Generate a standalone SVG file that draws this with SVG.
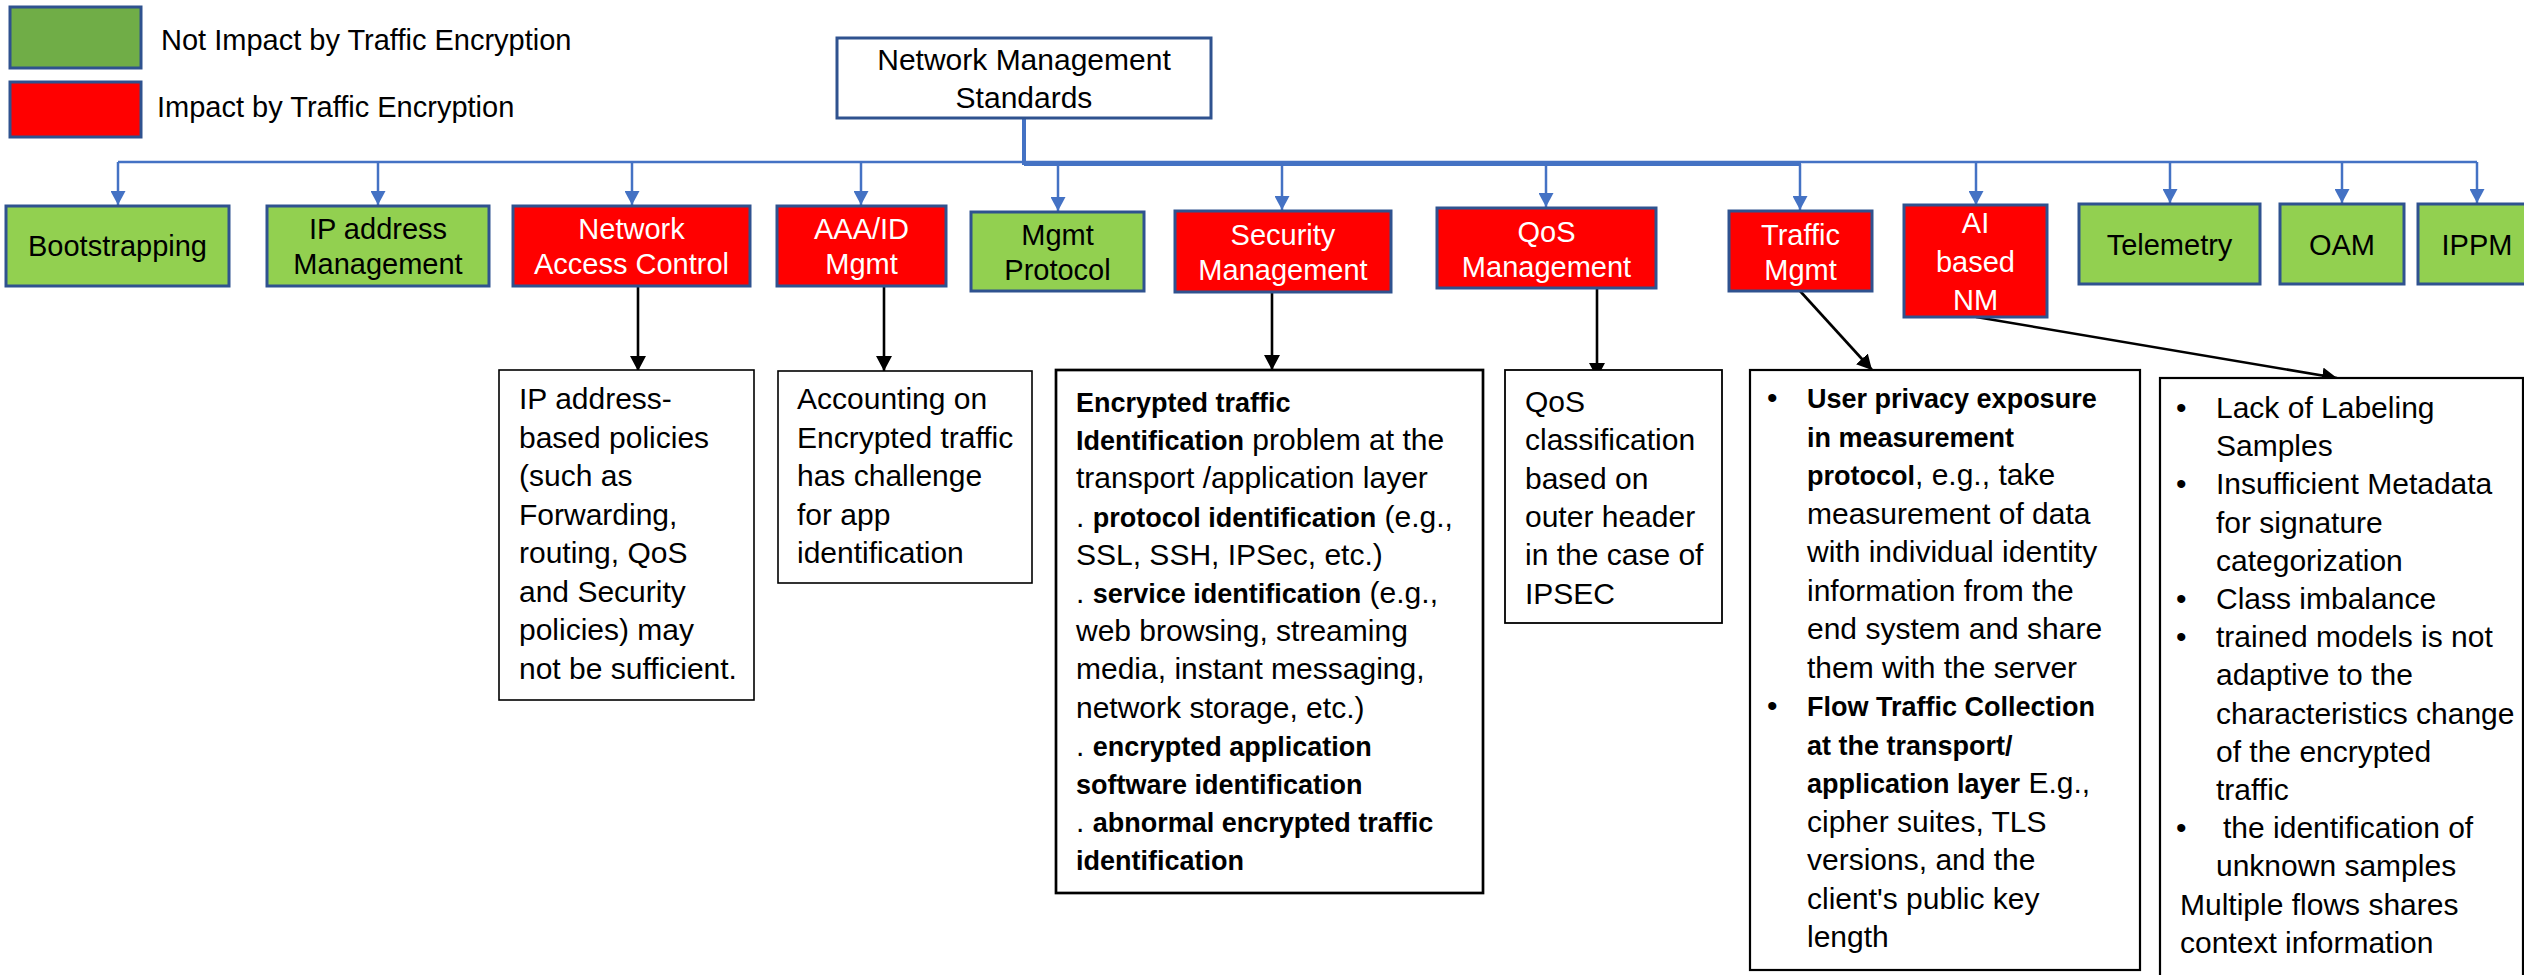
<svg xmlns="http://www.w3.org/2000/svg" width="2524" height="975" viewBox="0 0 2524 975">
  <style>
    text { font-family: "Liberation Sans", Arial, sans-serif; }
    .lbl { font-size: 29px; text-anchor: middle; }
    .lbl-w { fill: #ffffff; }
    .lbl-k { fill: #000000; }
    .body { font-size: 30px; fill: #000000; }
    .b { font-weight: bold; font-size: 27px; }
    .ok { fill: #92D050; stroke: #2F528F; stroke-width: 3; }
    .hit { fill: #FF0000; stroke: #2F528F; stroke-width: 3; }
    .note { fill: #ffffff; stroke: #000000; }
    .bus { fill: none; stroke: #4472C4; stroke-width: 2.5; }
    .drop { fill: none; stroke: #4472C4; stroke-width: 2.5; marker-end: url(#arrowBlue); }
    .link { fill: none; stroke: #000000; stroke-width: 2.6; marker-end: url(#arrowBlack); }
  </style>
  <defs>
    <marker id="arrowBlue" viewBox="0 0 14 15" refX="14" refY="7.5" markerWidth="14" markerHeight="15" markerUnits="userSpaceOnUse" orient="auto">
      <path d="M0,0 L14,7.5 L0,15 z" fill="#4472C4"/>
    </marker>
    <marker id="arrowBlack" viewBox="0 0 15 16" refX="15" refY="8" markerWidth="15" markerHeight="16" markerUnits="userSpaceOnUse" orient="auto">
      <path d="M0,0 L15,8 L0,16 z" fill="#000000"/>
    </marker>
  </defs>

  <rect width="2524" height="975" fill="#ffffff"/>

  <!-- legend -->
  <g id="legend">
    <rect x="10" y="7" width="131" height="61" fill="#70AD47" stroke="#2F528F" stroke-width="3"/>
    <text x="161" y="50" style="font-size:29px" fill="#000">Not Impact by Traffic Encryption</text>
    <rect x="10" y="82" width="131" height="55" fill="#FF0000" stroke="#2F528F" stroke-width="3"/>
    <text x="157" y="117" style="font-size:29px" fill="#000">Impact by Traffic Encryption</text>
  </g>

  <!-- connectors -->
  <g id="connectors">
    <!-- root trunk and distribution bus -->
    <line x1="1024" y1="118" x2="1024" y2="165" stroke="#4472C4" stroke-width="4"/>
    <line class="bus" x1="118" y1="162" x2="2477" y2="162"/>
    <line class="bus" x1="1024" y1="163.5" x2="1546" y2="163.5" style="stroke-width:4"/>
    <line class="bus" x1="1024" y1="164.5" x2="1801" y2="164.5" style="stroke-width:3"/>
    <!-- drops to category boxes -->
    <line class="drop" x1="118" y1="162" x2="118" y2="205"/>
    <line class="drop" x1="378" y1="162" x2="378" y2="205"/>
    <line class="drop" x1="632" y1="162" x2="632" y2="205"/>
    <line class="drop" x1="861" y1="162" x2="861" y2="205"/>
    <line class="drop" x1="1058" y1="164" x2="1058" y2="211"/>
    <line class="drop" x1="1282" y1="164" x2="1282" y2="210"/>
    <line class="drop" x1="1546" y1="164" x2="1546" y2="207"/>
    <line class="drop" x1="1800" y1="164" x2="1800" y2="210"/>
    <line class="drop" x1="1976" y1="162" x2="1976" y2="205"/>
    <line class="drop" x1="2170" y1="162" x2="2170" y2="203"/>
    <line class="drop" x1="2342" y1="162" x2="2342" y2="203"/>
    <line class="drop" x1="2477" y1="162" x2="2477" y2="203"/>
    <!-- category boxes to issue notes -->
    <line class="link" x1="638" y1="286" x2="638" y2="371"/>
    <line class="link" x1="884" y1="286" x2="884" y2="371"/>
    <line class="link" x1="1272" y1="292" x2="1272" y2="370"/>
    <line class="link" x1="1597" y1="288" x2="1597" y2="378"/>
    <line class="link" x1="1800" y1="291" x2="1872" y2="370"/>
    <line class="link" x1="1976" y1="317" x2="2337" y2="378"/>
  </g>

  <!-- root -->
  <g id="root">
    <rect x="837" y="38" width="374" height="80" fill="#ffffff" stroke="#2F528F" stroke-width="3"/>
    <text x="1024" y="70" text-anchor="middle" style="font-size:30px" fill="#000">Network Management</text>
    <text x="1024" y="108" text-anchor="middle" style="font-size:30px" fill="#000">Standards</text>
  </g>

  <!-- categories -->
  <g id="bootstrapping">
    <rect class="ok" x="6" y="206" width="223" height="80"/>
    <text class="lbl lbl-k" x="117.5" y="256">Bootstrapping</text>
  </g>
  <g id="ip-address-management">
    <rect class="ok" x="267" y="206" width="222" height="80"/>
    <text class="lbl lbl-k" x="378" y="239">IP address</text>
    <text class="lbl lbl-k" x="378" y="274">Management</text>
  </g>
  <g id="network-access-control">
    <rect class="hit" x="513" y="206" width="237" height="80"/>
    <text class="lbl lbl-w" x="631.5" y="239">Network</text>
    <text class="lbl lbl-w" x="631.5" y="274">Access Control</text>
  </g>
  <g id="aaa-id-mgmt">
    <rect class="hit" x="777" y="206" width="169" height="80"/>
    <text class="lbl lbl-w" x="861.5" y="239">AAA/ID</text>
    <text class="lbl lbl-w" x="861.5" y="274">Mgmt</text>
  </g>
  <g id="mgmt-protocol">
    <rect class="ok" x="971" y="212" width="173" height="79"/>
    <text class="lbl lbl-k" x="1057.5" y="245">Mgmt</text>
    <text class="lbl lbl-k" x="1057.5" y="280">Protocol</text>
  </g>
  <g id="security-management">
    <rect class="hit" x="1175" y="211" width="216" height="81"/>
    <text class="lbl lbl-w" x="1283" y="245">Security</text>
    <text class="lbl lbl-w" x="1283" y="280">Management</text>
  </g>
  <g id="qos-management">
    <rect class="hit" x="1437" y="208" width="219" height="80"/>
    <text class="lbl lbl-w" x="1546.5" y="242">QoS</text>
    <text class="lbl lbl-w" x="1546.5" y="277">Management</text>
  </g>
  <g id="traffic-mgmt">
    <rect class="hit" x="1729" y="211" width="143" height="80"/>
    <text class="lbl lbl-w" x="1800.5" y="245">Traffic</text>
    <text class="lbl lbl-w" x="1800.5" y="280">Mgmt</text>
  </g>
  <g id="ai-based-nm">
    <rect class="hit" x="1904" y="205" width="143" height="112"/>
    <text class="lbl lbl-w" x="1975.5" y="233">AI</text>
    <text class="lbl lbl-w" x="1975.5" y="272">based</text>
    <text class="lbl lbl-w" x="1975.5" y="310">NM</text>
  </g>
  <g id="telemetry">
    <rect class="ok" x="2079" y="204" width="181" height="80"/>
    <text class="lbl lbl-k" x="2169.5" y="255">Telemetry</text>
  </g>
  <g id="oam">
    <rect class="ok" x="2280" y="204" width="124" height="80"/>
    <text class="lbl lbl-k" x="2342" y="255">OAM</text>
  </g>
  <g id="ippm">
    <rect class="ok" x="2418" y="204" width="118" height="80"/>
    <text class="lbl lbl-k" x="2477" y="255">IPPM</text>
  </g>

  <!-- issue notes -->
  <g id="note-access-control">
    <rect class="note" x="499" y="370" width="255" height="330" stroke-width="1.6"/>
    <text class="body" x="519" y="409">IP address-</text>
    <text class="body" x="519" y="447.5">based policies</text>
    <text class="body" x="519" y="486">(such as</text>
    <text class="body" x="519" y="524.5">Forwarding,</text>
    <text class="body" x="519" y="563">routing, QoS</text>
    <text class="body" x="519" y="601.5">and Security</text>
    <text class="body" x="519" y="640">policies) may</text>
    <text class="body" x="519" y="678.5">not be sufficient.</text>
  </g>

  <g id="note-aaa">
    <rect class="note" x="778" y="371" width="254" height="212" stroke-width="1.6"/>
    <text class="body" x="797" y="409">Accounting on</text>
    <text class="body" x="797" y="447.5">Encrypted traffic</text>
    <text class="body" x="797" y="486">has challenge</text>
    <text class="body" x="797" y="524.5">for app</text>
    <text class="body" x="797" y="563">identification</text>
  </g>

  <g id="note-security">
    <rect class="note" x="1056" y="370" width="427" height="523" stroke-width="2.7"/>
    <text class="body b" x="1076" y="412">Encrypted traffic</text>
    <text class="body" x="1076" y="450.2"><tspan class="b">Identification</tspan> problem at the</text>
    <text class="body" x="1076" y="488.4">transport /application layer</text>
    <text class="body" x="1076" y="526.6">. <tspan class="b">protocol identification</tspan> (e.g.,</text>
    <text class="body" x="1076" y="564.8">SSL, SSH, IPSec, etc.)</text>
    <text class="body" x="1076" y="603">. <tspan class="b">service identification</tspan> (e.g.,</text>
    <text class="body" x="1076" y="641.2">web browsing, streaming</text>
    <text class="body" x="1076" y="679.4">media, instant messaging,</text>
    <text class="body" x="1076" y="717.6">network storage, etc.)</text>
    <text class="body" x="1076" y="755.8">. <tspan class="b">encrypted application</tspan></text>
    <text class="body b" x="1076" y="794">software identification</text>
    <text class="body" x="1076" y="832.2">. <tspan class="b">abnormal encrypted traffic</tspan></text>
    <text class="body b" x="1076" y="870.4">identification</text>
  </g>

  <g id="note-qos">
    <rect class="note" x="1505" y="370" width="217" height="253" stroke-width="1.8"/>
    <text class="body" x="1525" y="412">QoS</text>
    <text class="body" x="1525" y="450.3">classification</text>
    <text class="body" x="1525" y="488.6">based on</text>
    <text class="body" x="1525" y="526.9">outer header</text>
    <text class="body" x="1525" y="565.2">in the case of</text>
    <text class="body" x="1525" y="603.5">IPSEC</text>
  </g>

  <g id="note-traffic">
    <rect class="note" x="1750" y="370" width="390" height="600" stroke-width="2.2"/>
    <text class="body" x="1767" y="408">•</text>
    <text class="body b" x="1807" y="408">User privacy exposure</text>
    <text class="body b" x="1807" y="446.5">in measurement</text>
    <text class="body" x="1807" y="485"><tspan class="b">protocol</tspan>, e.g., take</text>
    <text class="body" x="1807" y="523.5">measurement of data</text>
    <text class="body" x="1807" y="562">with individual identity</text>
    <text class="body" x="1807" y="600.5">information from the</text>
    <text class="body" x="1807" y="639">end system and share</text>
    <text class="body" x="1807" y="677.5">them with the server</text>
    <text class="body" x="1767" y="716">•</text>
    <text class="body b" x="1807" y="716">Flow Traffic Collection</text>
    <text class="body b" x="1807" y="754.5">at the transport/</text>
    <text class="body" x="1807" y="793"><tspan class="b">application layer</tspan> E.g.,</text>
    <text class="body" x="1807" y="831.5">cipher suites, TLS</text>
    <text class="body" x="1807" y="870">versions, and the</text>
    <text class="body" x="1807" y="908.5">client's public key</text>
    <text class="body" x="1807" y="947">length</text>
  </g>

  <g id="note-ai">
    <rect class="note" x="2160" y="378" width="363" height="640" stroke-width="2.2"/>
    <text class="body" x="2176" y="418">•</text>
    <text class="body" x="2216" y="418">Lack of Labeling</text>
    <text class="body" x="2216" y="456.2">Samples</text>
    <text class="body" x="2176" y="494.4">•</text>
    <text class="body" x="2216" y="494.4">Insufficient Metadata</text>
    <text class="body" x="2216" y="532.6">for signature</text>
    <text class="body" x="2216" y="570.8">categorization</text>
    <text class="body" x="2176" y="609">•</text>
    <text class="body" x="2216" y="609">Class imbalance</text>
    <text class="body" x="2176" y="647.2">•</text>
    <text class="body" x="2216" y="647.2">trained models is not</text>
    <text class="body" x="2216" y="685.4">adaptive to the</text>
    <text class="body" x="2216" y="723.6">characteristics change</text>
    <text class="body" x="2216" y="761.8">of the encrypted</text>
    <text class="body" x="2216" y="800">traffic</text>
    <text class="body" x="2176" y="838.2">•</text>
    <text class="body" x="2223" y="838.2">the identification of</text>
    <text class="body" x="2216" y="876.4">unknown samples</text>
    <text class="body" x="2180" y="914.6">Multiple flows shares</text>
    <text class="body" x="2180" y="952.8">context information</text>
  </g>
</svg>
